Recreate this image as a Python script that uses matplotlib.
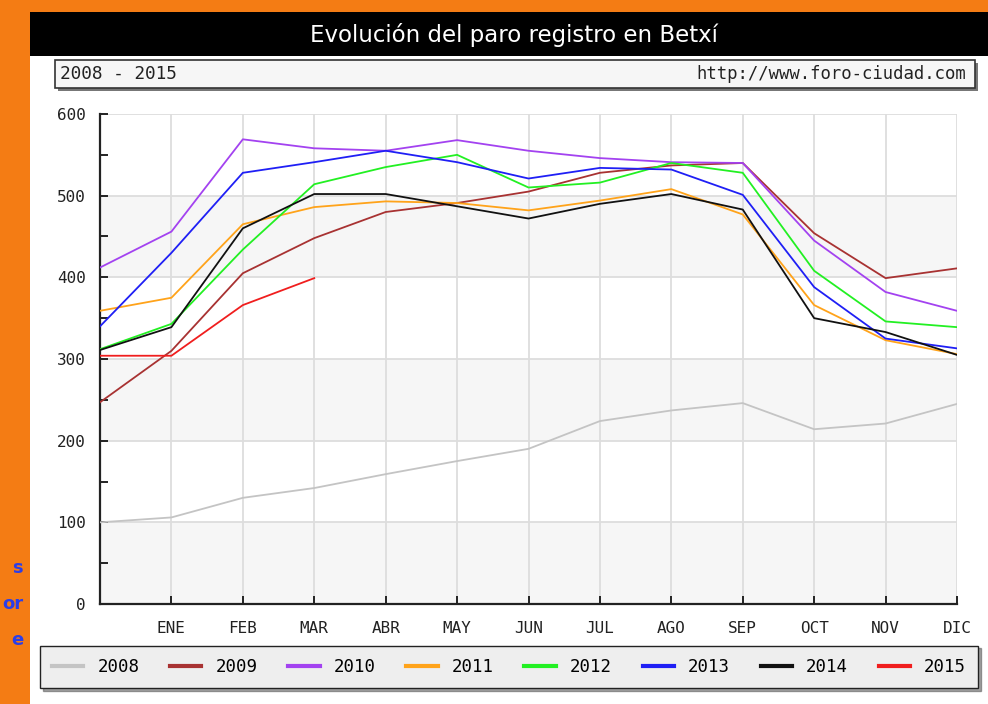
import matplotlib
matplotlib.use('Agg')
import matplotlib.pyplot as plt
from matplotlib.patches import Rectangle

# data
months = ['', 'ENE', 'FEB', 'MAR', 'ABR', 'MAY', 'JUN', 'JUL', 'AGO', 'SEP', 'OCT', 'NOV', 'DIC']
years = ['2008', '2009', '2010', '2011', '2012', '2013', '2014', '2015']
colors = ['#c4c4c4', '#a83232', '#a342f0', '#ffa31a', '#22f022', '#1f1ff5', '#111111', '#f01e1e']

v2008 = [100, 106, 130, 142, 159, 175, 190, 224, 237, 246, 214, 221, 245]
v2009 = [247, 310, 405, 448, 480, 491, 505, 528, 537, 540, 454, 399, 411]
v2010 = [412, 456, 569, 558, 555, 568, 555, 546, 541, 540, 445, 382, 359]
v2011 = [359, 375, 465, 486, 493, 491, 482, 494, 508, 477, 366, 323, 306]
v2012 = [312, 343, 434, 514, 535, 550, 510, 516, 540, 528, 408, 346, 339]
v2013 = [340, 430, 528, 541, 555, 541, 521, 534, 532, 501, 388, 325, 313]
v2014 = [311, 339, 460, 502, 502, 487, 472, 490, 502, 483, 350, 333, 305]
v2015 = [304, 304, 366, 399]
series = [v2008, v2009, v2010, v2011, v2012, v2013, v2014, v2015]

W, H = 988, 704
fig = plt.figure(figsize=(W / 100, H / 100), dpi=100)
fig.patch.set_facecolor('#f47c14')


def box(x0, y0, x1, y1, **kw):
    # pixel coords, y measured from top
    return Rectangle((x0 / W, 1 - y1 / H), (x1 - x0) / W, (y1 - y0) / H,
                     transform=fig.transFigure, zorder=-5, **kw)


fig.patches.append(box(30, 12, 988, 704, facecolor='white', edgecolor='none'))
fig.patches.append(box(30, 12, 988, 56, facecolor='black', edgecolor='none'))
fig.text(514 / W, 1 - 35 / H, 'Evolución del paro registro en Betxí', color='white',
         fontsize=16.5, ha='center', va='center', family='DejaVu Sans')

# subtitle box with shadow
fig.patches.append(box(58, 63, 978, 91, facecolor='#777777', edgecolor='none'))
fig.patches.append(box(55, 60, 975, 88, facecolor='#f6f6f6', edgecolor='#333333', lw=1.2))
fig.text(60 / W, 1 - 74 / H, '2008 - 2015', fontsize=12.8, family='DejaVu Sans Mono',
         ha='left', va='center', color='#222222')
fig.text(966 / W, 1 - 74 / H, 'http://www.foro-ciudad.com', fontsize=12.4,
         family='DejaVu Sans Mono', ha='right', va='center', color='#222222')

# bits of text peeking in on the left
for txt, yy in [('s', 568), ('or', 604), ('e', 640)]:
    fig.text(23 / W, 1 - yy / H, txt, color='#2b3ee8', fontsize=13, fontweight='bold',
             ha='right', va='center')

ax = fig.add_axes([100 / W, 1 - 604 / H, (957 - 100) / W, (604 - 114) / H])
ax.set_xlim(0, 12)
ax.set_ylim(0, 600)
ax.set_facecolor('white')
for lo in (0, 200, 400):
    ax.axhspan(lo, lo + 100, color='#f6f6f6', zorder=0, lw=0)
ax.set_xticks(range(13))
ax.set_xticklabels(months)
ax.set_yticks(range(0, 601, 100))
ax.set_yticks(range(0, 601, 50), minor=True)
ax.grid(True, which='major', color='#dddddd', lw=1.3, zorder=1)
ax.set_axisbelow(True)
for s in ('top', 'right'):
    ax.spines[s].set_visible(False)
for s in ('left', 'bottom'):
    ax.spines[s].set_color('#222222')
    ax.spines[s].set_linewidth(1.6)
ax.tick_params(axis='both', which='both', direction='in', length=6, width=1.4,
               color='#222222', labelsize=11.5)
ax.tick_params(axis='x', pad=12)
ax.tick_params(axis='y', pad=10)
for lab in ax.get_xticklabels() + ax.get_yticklabels():
    lab.set_family('DejaVu Sans Mono')
    lab.set_color('#222222')

for name, vals, c in zip(years, series, colors):
    ax.plot(range(len(vals)), vals, color=c, lw=1.3, label=name, zorder=3)

handles, labels = ax.get_legend_handles_labels()
leg = fig.legend(handles, labels, ncol=8, loc='lower left', mode='expand',
                 bbox_to_anchor=(40 / W, 1 - 688 / H, 938 / W, 43 / H), borderaxespad=0,
                 frameon=True, fancybox=False, shadow=True, handlelength=1.8,
                 handletextpad=0.8, borderpad=0.7,
                 prop={'family': 'DejaVu Sans Mono', 'size': 12.5})
leg.get_frame().set_facecolor('#eeeeee')
leg.get_frame().set_edgecolor('#222222')
leg.get_frame().set_alpha(1)
for ln in leg.get_lines():
    ln.set_linewidth(3)

fig.savefig('out.png', dpi=100, facecolor=fig.get_facecolor())
